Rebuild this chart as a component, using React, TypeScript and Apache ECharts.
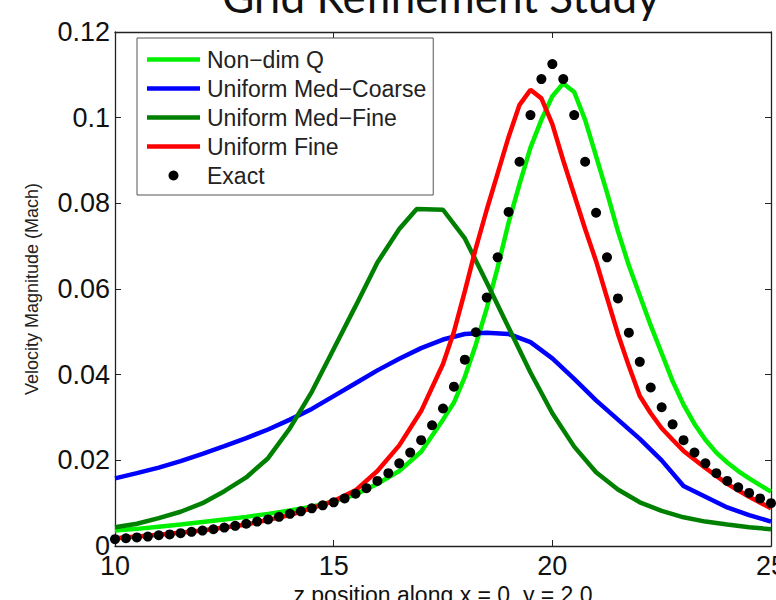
import React, { useEffect, useRef } from "react";
import * as echarts from "echarts";

// Exact solution, sampled every 0.25 along z
const exactZ = [
  10, 10.25, 10.5, 10.75, 11, 11.25, 11.5, 11.75, 12, 12.25, 12.5, 12.75,
  13, 13.25, 13.5, 13.75, 14, 14.25, 14.5, 14.75, 15, 15.25, 15.5, 15.75,
  16, 16.25, 16.5, 16.75, 17, 17.25, 17.5, 17.75, 18, 18.25, 18.5, 18.75,
  19, 19.25, 19.5, 19.75, 20, 20.25, 20.5, 20.75, 21, 21.25, 21.5, 21.75,
  22, 22.25, 22.5, 22.75, 23, 23.25, 23.5, 23.75, 24, 24.25, 24.5, 24.75, 25,
];
const exactV = [
  0.0016, 0.0018, 0.002, 0.0022, 0.0025, 0.0027, 0.003, 0.0033, 0.0036, 0.0039,
  0.0043, 0.0047, 0.0052, 0.0057, 0.0062, 0.0068, 0.0075, 0.0081, 0.0088, 0.0095,
  0.0102, 0.0111, 0.0122, 0.0135, 0.0152, 0.017, 0.0193, 0.0218, 0.0247, 0.0282,
  0.0321, 0.0372, 0.0435, 0.0499, 0.058, 0.0674, 0.078, 0.0897, 0.1006, 0.109,
  0.1125, 0.109, 0.1006, 0.0897, 0.0778, 0.0674, 0.0578, 0.0498, 0.043, 0.037,
  0.0324, 0.0284, 0.0247, 0.0218, 0.0193, 0.017, 0.0152, 0.0137, 0.0124, 0.0111,
  0.01,
];

// Non-dim Q refinement
const nonDimZ = [
  10, 10.5, 11, 11.5, 12, 12.5, 13, 13.5, 14, 14.5, 15, 15.5, 16, 16.5, 17, 17.5,
  17.75, 18, 18.25, 18.5, 18.75, 19, 19.25, 19.5, 19.75, 20, 20.25, 20.5, 20.75,
  21, 21.25, 21.5, 21.75, 22, 22.25, 22.5, 22.75, 23, 23.25, 23.5, 23.75, 24,
  24.25, 24.5, 24.75, 25,
];
const nonDimV = [
  0.0036, 0.004, 0.0045, 0.005, 0.0056, 0.0062, 0.0068, 0.0075, 0.0083, 0.0092,
  0.0104, 0.012, 0.0145, 0.0175, 0.022, 0.0295, 0.0335, 0.0395, 0.047, 0.0555,
  0.065, 0.0755, 0.0845, 0.093, 0.0995, 0.105, 0.108, 0.106, 0.0995, 0.091,
  0.0825, 0.0735, 0.0655, 0.0585, 0.0515, 0.045, 0.0385, 0.033, 0.0285, 0.0248,
  0.0218, 0.0195, 0.0175, 0.0158, 0.0142, 0.0127,
];

// Uniform medium-coarse grid
const medCoarseZ = [
  10, 10.5, 11, 11.5, 12, 12.5, 13, 13.5, 14, 14.5, 15, 15.5, 16, 16.5, 17, 17.5,
  18, 18.5, 19, 19.5, 20, 20.5, 21, 21.5, 22, 22.5, 23, 23.5, 24, 24.5, 25,
];
const medCoarseV = [
  0.0158, 0.017, 0.0183, 0.0198, 0.0215, 0.0233, 0.0252, 0.0272, 0.0295, 0.032,
  0.035, 0.038, 0.041, 0.0437, 0.0462, 0.0482, 0.0495, 0.0498, 0.0495, 0.0476,
  0.0438, 0.039, 0.034, 0.0295, 0.025, 0.02, 0.014, 0.0115, 0.009, 0.0072, 0.0057,
];

// Uniform medium-fine grid
const medFineZ = [
  10, 10.5, 11, 11.5, 12, 12.5, 13, 13.5, 14, 14.5, 15, 15.5, 16, 16.5, 16.9,
  17.5, 18, 18.5, 19, 19.5, 20, 20.5, 21, 21.5, 22, 22.5, 23, 23.5, 24, 24.5, 25,
];
const medFineV = [
  0.0044, 0.0052, 0.0065, 0.008, 0.01, 0.0128, 0.016, 0.0205, 0.0275, 0.036,
  0.046, 0.056, 0.0662, 0.074, 0.0787, 0.0785, 0.0718, 0.0615, 0.051, 0.0405,
  0.031, 0.0232, 0.0172, 0.0132, 0.0102, 0.0082, 0.0067, 0.0057, 0.005, 0.0044,
  0.0039,
];

// Uniform fine grid
const fineZ = [
  10, 11, 12, 13, 14, 15, 15.5, 16, 16.5, 17, 17.5, 17.75, 18, 18.25, 18.5, 18.75,
  19, 19.25, 19.5, 19.75, 20, 20.25, 20.5, 20.75, 21, 21.25, 21.5, 21.75, 22,
  22.25, 22.5, 22.75, 23, 23.5, 24, 24.5, 25,
];
const fineV = [
  0.0018, 0.0026, 0.0036, 0.005, 0.0072, 0.0105, 0.013, 0.0175, 0.0235, 0.0315,
  0.0425, 0.05, 0.0595, 0.0695, 0.0785, 0.087, 0.0955, 0.103, 0.1065, 0.1045,
  0.0985, 0.09, 0.082, 0.074, 0.0665, 0.058, 0.0495, 0.042, 0.035, 0.031, 0.0275,
  0.0248, 0.0222, 0.0182, 0.0145, 0.0115, 0.0088,
];

const seriesNames = [
  "Non\u2212dim Q",
  "Uniform Med\u2212Coarse",
  "Uniform Med\u2212Fine",
  "Uniform Fine",
  "Exact",
];
const seriesColors = ["#00f000", "#0000ff", "#008000", "#ff0000", "#000000"];

const xTicks = { min: 10, max: 25, interval: 5 };
const yTicks = { min: 0, max: 0.12, interval: 0.02 };

const FONT = "'Liberation Sans', Arial, Helvetica, sans-serif";
const LINE_WIDTH = 4.5;
// legend swatch for the line series: a plain stroke-sized bar, no marker
const LINE_ICON = "path://M0,0L53,0L53,4.5L0,4.5Z";

const pairs = (xs: number[], ys: number[]) => xs.map((x, i) => [x, ys[i]]);

export default function App() {
  const ref = useRef<HTMLDivElement>(null);

  useEffect(() => {
    if (!ref.current) return;
    const chart = echarts.init(ref.current, undefined, { renderer: "svg" });

    const frameAxis = {
      axisLine: { show: true, onZero: false, lineStyle: { color: "#222", width: 1.3 } },
      axisTick: { show: true, inside: true, length: 6, lineStyle: { color: "#222", width: 1 } },
      splitLine: { show: false },
    };

    const lineSeries = (idx: number, xs: number[], ys: number[]) => ({
      name: seriesNames[idx],
      type: "line",
      data: pairs(xs, ys),
      symbol: "none",
      showSymbol: false,
      smooth: false,
      lineStyle: { color: seriesColors[idx], width: LINE_WIDTH },
      itemStyle: { color: seriesColors[idx] },
      z: 2 + idx,
    });

    chart.setOption({
      animation: false,
      backgroundColor: "#ffffff",
      grid: {
        left: 115,
        right: 5,
        top: 32,
        bottom: 54,
        containLabel: false,
        outerBoundsMode: "none",
      },
      graphic: [
        {
          type: "text",
          x: 441,
          y: -4,
          style: {
            text: "Grid Refinement Study",
            fontSize: 44,
            fontFamily: "Lato, 'Open Sans', sans-serif",
            fill: "#111",
            textAlign: "center",
            textVerticalAlign: "middle",
          },
        },
      ],
      legend: {
        orient: "vertical",
        left: 137,
        top: 38,
        padding: [10, 7, 8, 10],
        itemWidth: 53,
        itemHeight: 10,
        itemGap: 6,
        borderColor: "#555",
        borderWidth: 1,
        backgroundColor: "#ffffff",
        textStyle: {
          fontSize: 23,
          lineHeight: 20,
          fontFamily: FONT,
          color: "#222",
          padding: [0, 0, 0, 2],
        },
        data: [
          { name: seriesNames[0], icon: LINE_ICON, itemStyle: { color: seriesColors[0] } },
          { name: seriesNames[1], icon: LINE_ICON, itemStyle: { color: seriesColors[1] } },
          { name: seriesNames[2], icon: LINE_ICON, itemStyle: { color: seriesColors[2] } },
          { name: seriesNames[3], icon: LINE_ICON, itemStyle: { color: seriesColors[3] } },
          { name: seriesNames[4], icon: "circle", itemStyle: { color: seriesColors[4] } },
        ],
      },
      xAxis: [
        {
          type: "value",
          position: "bottom",
          ...xTicks,
          ...frameAxis,
          axisLabel: { fontSize: 27, color: "#111", margin: 6, fontFamily: FONT },
          name: "z position along x = 0, y = 2.0",
          nameLocation: "middle",
          nameGap: 35,
          nameTextStyle: { fontSize: 23, color: "#111", fontFamily: FONT },
        },
        {
          type: "value",
          position: "top",
          ...xTicks,
          ...frameAxis,
          axisLabel: { show: false },
        },
      ],
      yAxis: [
        {
          type: "value",
          position: "left",
          ...yTicks,
          ...frameAxis,
          axisLabel: { fontSize: 27, color: "#111", margin: 5, fontFamily: FONT },
          name: "Velocity Magnitude (Mach)",
          nameLocation: "middle",
          nameGap: 74,
          nameTextStyle: { fontSize: 18, color: "#222", fontFamily: FONT },
        },
        {
          type: "value",
          position: "right",
          ...yTicks,
          ...frameAxis,
          axisLabel: { show: false },
        },
      ],
      series: [
        lineSeries(0, nonDimZ, nonDimV),
        lineSeries(1, medCoarseZ, medCoarseV),
        lineSeries(2, medFineZ, medFineV),
        lineSeries(3, fineZ, fineV),
        {
          name: seriesNames[4],
          type: "scatter",
          data: pairs(exactZ, exactV),
          symbol: "circle",
          symbolSize: 10,
          itemStyle: { color: seriesColors[4], opacity: 1 },
          z: 10,
        },
      ],
    });

    return () => chart.dispose();
  }, []);

  return (
    <div
      ref={ref}
      style={{ position: "fixed", left: 0, top: 0, width: 776, height: 600 }}
    />
  );
}
